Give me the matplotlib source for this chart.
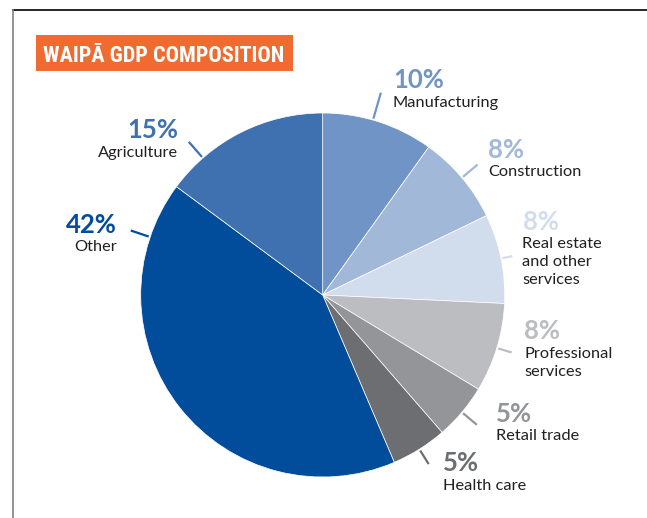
import matplotlib.pyplot as plt
from matplotlib.patches import Rectangle
from matplotlib import font_manager
import numpy as np

# Composição do PIB de Waipā
setores = ['Manufacturing', 'Construction', 'Real estate\nand other\nservices',
           'Professional\nservices', 'Retail trade', 'Health care', 'Other', 'Agriculture']
percentuais = [10, 8, 8, 8, 5, 5, 42, 15]
cores = ['#7094c6', '#a2b8d9', '#d1ddec', '#bcbdc0', '#939598', '#6d6e71', '#024c9c', '#3f71b1']

W, H = 647, 518
fig = plt.figure(figsize=(W / 100, H / 100), dpi=100)
ax = fig.add_axes([0, 0, 1, 1])

centro = (322.7, H - 295)
raio = 182
wedges, _ = ax.pie(percentuais, colors=cores, startangle=90, counterclock=False,
                   center=centro, radius=raio,
                   wedgeprops=dict(edgecolor='white', linewidth=0.5))
ax.set_xlim(0, W)
ax.set_ylim(0, H)
ax.axis('off')

# posicao do traco dentro da fatia (0 = inicio, 1 = fim) e comprimento
frac_traco = [0.45, 0.5, 0.5, 0.5, 0.5, 0.5, 0.88, 0.23]
comp_traco = [27, 19, 10, 14, 18, 16, 19, 20]
for w, f, c, cor in zip(wedges, frac_traco, comp_traco, cores):
    ang = np.deg2rad(w.theta2 - f * (w.theta2 - w.theta1))
    r0, r1 = raio + 1.5, raio + 1.5 + c
    ax.plot([centro[0] + r0 * np.cos(ang), centro[0] + r1 * np.cos(ang)],
            [centro[1] + r0 * np.sin(ang), centro[1] + r1 * np.sin(ang)],
            color=cor, lw=1.6, solid_capstyle='butt')

# rotulos: x, linha de base do percentual, alinhamento
pos_rotulos = [(393, 88, 'left'), (488, 158, 'left'), (522.5, 230, 'left'),
               (524, 339.3, 'left'), (496, 421.7, 'left'), (443, 471, 'left'),
               (117, 232.7, 'right'), (178, 138.3, 'right')]
for nome, p, cor, (x, yb, ha) in zip(setores, percentuais, cores, pos_rotulos):
    ax.text(x, H - yb, f'{p}%', color=cor, fontsize=18.5, fontweight='bold',
            family='Lato', ha=ha, va='baseline')
    for i, linha in enumerate(nome.split('\n')):
        ax.text(x, H - (yb + 18.5 + i * 18), linha, color='#231f20', fontsize=11.8,
                family='Lato', ha=ha, va='baseline')

# titulo: fonte estreita se existir
nomes = {f.name for f in font_manager.fontManager.ttflist}
fonte_titulo = 'Roboto'
for nm in ['Liberation Sans Narrow', 'Roboto Condensed', 'DejaVu Sans Condensed']:
    if nm in nomes:
        fonte_titulo = nm
        break
ax.add_patch(Rectangle((36, H - 70.7), 256.7, 35.7, color='#ef6b2f', lw=0))
t = ax.text(43, H - 62.5, 'WAIPĀ GDP COMPOSITION', color='white', fontsize=16,
            fontweight='bold', family=fonte_titulo, va='baseline')
# reduz a fonte ate caber na caixa
fig.canvas.draw()
larg = t.get_window_extent(fig.canvas.get_renderer()).width
if larg > 241:
    t.set_fontsize(16 * 241 / larg)

# moldura
ax.plot([13, W], [H - 9.5, H - 9.5], color='black', lw=1.2)
ax.plot([13, 13], [H - 9.5, 0], color='#808080', lw=1.2)

plt.savefig('out.png', dpi=100)
